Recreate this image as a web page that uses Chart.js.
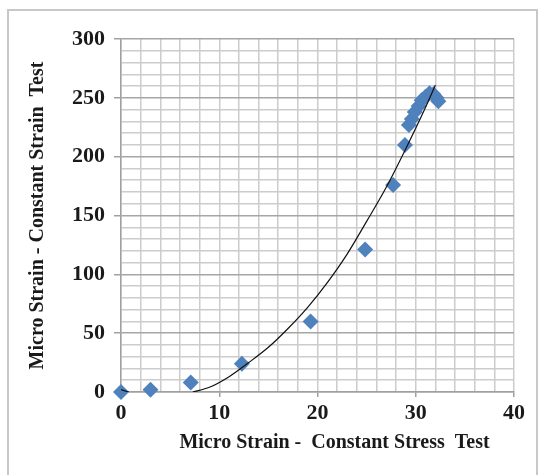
<!DOCTYPE html>
<html>
<head>
<meta charset="utf-8">
<script src="https://cdn.jsdelivr.net/npm/chart.js@4"></script>
<style>
  body { margin: 0; background: #fff; }
  #wrap { position: relative; width: 541px; height: 475px; overflow: hidden; }
  #frame { position: absolute; left: 7px; top: 9px; width: 527px; height: 480px; border: 2px solid #c8c8c8; }
  #myChart { position: absolute; left: 0; top: 0; }
</style>
</head>
<body>
<div id="wrap">
  <div id="frame"></div>
  <canvas id="myChart" width="541" height="475"></canvas>
</div>
<script>
// measured points (constant stress test vs constant strain test)
var stressX = [0, 3, 7.1, 12.3, 19.3, 24.85, 27.7, 28.9, 29.3, 29.6, 29.9, 30.3, 30.6, 31.0, 31.4, 31.8, 32.1, 32.3];
var strainY = [0, 2, 8, 24, 60, 121, 176, 210, 227, 232, 238, 243, 248, 251, 254, 253, 250, 247];

// trend line (null = hidden below the axis)
var trendX = [0, 0.8, null, 7.3, 9, 11, 13, 15, 17, 19, 21, 23, 25, 27, 29, 31, 32];
var trendY = [2, 0, null, 0, 4, 13, 25, 38, 54, 72, 93, 117, 145, 174, 207, 242, 261];

var xTitle = 'Micro Strain -  Constant Stress  Test';
var yTitle = 'Micro Strain - Constant Strain  Test';

var serif = 'Liberation Serif, Times New Roman, serif';

var points = stressX.map(function (x, i) { return { x: x, y: strainY[i] }; });
var trend = trendX.map(function (x, i) { return x === null ? { x: 5, y: null } : { x: x, y: trendY[i] }; });

var xTitlePlugin = {
    id: 'xTitle',
    afterDraw: function (chart) {
        var ctx = chart.ctx;
        var a = chart.chartArea;
        ctx.save();
        ctx.font = 'bold 20px ' + serif;
        ctx.fillStyle = '#1a1a1a';
        ctx.textAlign = 'center';
        ctx.textBaseline = 'middle';
        ctx.fillText(xTitle, (a.left + a.right) / 2 + 17, 443);
        ctx.restore();
    }
};

var ctx = document.getElementById('myChart').getContext('2d');
var myChart = new Chart(ctx, {
    type: 'scatter',
    data: {
        datasets: [{
            data: points,
            pointStyle: 'rectRot',
            pointRadius: 8,
            pointHoverRadius: 8,
            backgroundColor: '#4f81bd',
            borderColor: '#4f81bd',
            borderWidth: 0,
            clip: false,
            order: 2
        }, {
            type: 'line',
            data: trend,
            borderColor: '#111',
            borderWidth: 1.2,
            pointRadius: 0,
            fill: false,
            spanGaps: false,
            cubicInterpolationMode: 'monotone',
            order: 1
        }]
    },
    options: {
        responsive: false,
        animation: false,
        layout: { padding: { left: 26, top: 39, right: 27, bottom: 10 } },
        plugins: { legend: { display: false }, tooltip: { enabled: false } },
        scales: {
            x: {
                type: 'linear',
                min: 0,
                max: 40,
                afterFit: function (s) { s.height = 475 - 392 - 10; },
                grid: {
                    color: '#cccccc',
                    lineWidth: 1.5,
                    tickLength: 5,
                    tickColor: function (c) { return c.tick && c.tick.value % 10 === 0 ? '#a0a0a0' : 'rgba(0,0,0,0)'; }
                },
                border: { color: '#a0a0a0', width: 1.5 },
                ticks: {
                    stepSize: 2,
                    autoSkip: false,
                    maxRotation: 0,
                    padding: 3,
                    color: '#1a1a1a',
                    font: { family: serif, size: 22, weight: 'bold' },
                    callback: function (v) { return v % 10 === 0 ? v : ''; }
                }
            },
            y: {
                min: 0,
                max: 300,
                afterFit: function (s) { s.width = 121 - 26; },
                grid: {
                    color: function (c) { return c.tick && c.tick.value % 50 === 0 ? '#a6a6a6' : '#cccccc'; },
                    lineWidth: 1.5,
                    tickLength: 7,
                    tickColor: function (c) { return c.tick && c.tick.value % 50 === 0 ? '#a0a0a0' : 'rgba(0,0,0,0)'; }
                },
                border: { color: '#a0a0a0', width: 1.5 },
                ticks: {
                    stepSize: 10,
                    autoSkip: false,
                    padding: 9,
                    color: '#1a1a1a',
                    font: { family: serif, size: 22, weight: 'bold' },
                    callback: function (v) { return v % 50 === 0 ? v : ''; }
                },
                title: {
                    display: true,
                    text: yTitle,
                    color: '#1a1a1a',
                    padding: 0,
                    font: { family: serif, size: 20, weight: 'bold' }
                }
            }
        }
    },
    plugins: [xTitlePlugin]
});
</script>
</body>
</html>
